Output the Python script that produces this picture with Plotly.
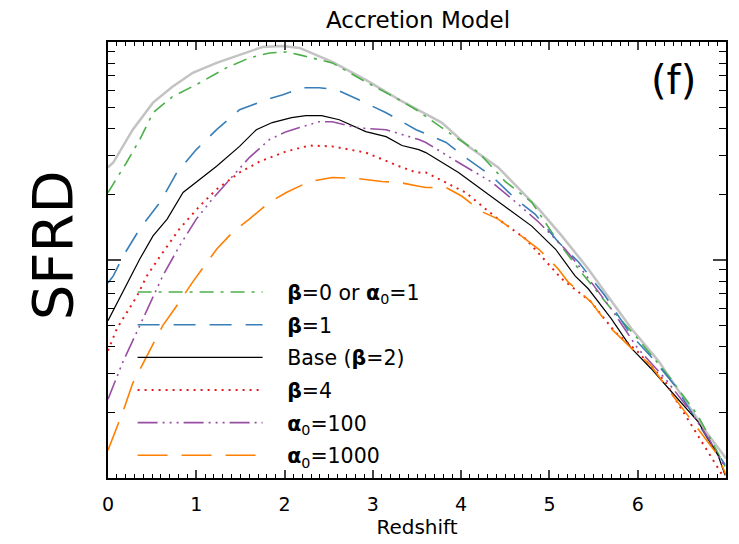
import plotly.graph_objects as go

# ---------------- data ----------------
z_gray = [0.0, 0.06, 0.28, 0.51, 0.73, 0.96, 1.23, 1.49, 1.75, 1.98, 2.17, 2.54, 2.92, 3.30,
          3.78, 4.08, 4.42, 4.88, 5.14, 5.44, 5.93, 6.24, 6.50, 6.77, 7.0]
v_gray = [0.266, 0.280, 0.396, 0.527, 0.623, 0.722, 0.802, 0.873, 0.949, 0.959, 0.939, 0.811,
          0.670, 0.543, 0.427, 0.332, 0.266, 0.171, 0.129, 0.0910, 0.0484, 0.0342, 0.0239,
          0.0164, 0.0123]

z_green = [0.0, 0.21, 0.36, 0.51, 0.73, 1.04, 1.34, 1.60, 1.83, 2.02, 2.17, 2.54, 2.92, 3.30,
           3.49, 3.86, 4.20, 4.50, 4.80, 5.10, 5.33, 5.70, 6.00, 6.37, 6.68, 6.96, 7.0]
v_green = [0.204, 0.280, 0.357, 0.474, 0.561, 0.650, 0.761, 0.845, 0.891, 0.900, 0.873, 0.802,
           0.656, 0.543, 0.489, 0.384, 0.311, 0.229, 0.184, 0.121, 0.0910, 0.0597, 0.0436,
           0.0286, 0.0194, 0.0120, 0.0111]

z_blue = [0.0, 0.06, 0.17, 0.36, 0.59, 0.78, 1.00, 1.23, 1.49, 1.79, 1.98, 2.20, 2.39, 2.59,
          2.84, 3.15, 3.49, 3.83, 4.05, 4.35, 4.62, 4.84, 5.10, 5.33, 5.63, 5.93, 6.15, 6.42,
          6.79, 6.99]
v_blue = [0.0785, 0.0845, 0.104, 0.139, 0.184, 0.252, 0.321, 0.396, 0.489, 0.543, 0.573, 0.617,
          0.617, 0.604, 0.543, 0.474, 0.396, 0.346, 0.295, 0.242, 0.190, 0.162, 0.121, 0.0979,
          0.0685, 0.0450, 0.0361, 0.0266, 0.0152, 0.0115]

z_black = [0.0, 0.25, 0.36, 0.51, 0.67, 0.85, 1.04, 1.23, 1.49, 1.68, 1.86, 2.08, 2.24, 2.42,
           2.62, 2.92, 3.15, 3.33, 3.52, 3.60, 3.97, 4.28, 4.50, 4.80, 5.07, 5.29, 5.44, 5.70,
           5.93, 6.15, 6.42, 6.68, 6.91, 6.99]
v_black = [0.0527, 0.0819, 0.101, 0.129, 0.154, 0.204, 0.234, 0.269, 0.332, 0.396, 0.427, 0.450,
           0.459, 0.459, 0.440, 0.388, 0.368, 0.335, 0.321, 0.311, 0.252, 0.204, 0.177, 0.143,
           0.112, 0.0845, 0.0738, 0.0538, 0.0393, 0.0318, 0.0239, 0.0182, 0.0127, 0.0103]

z_red = [0.0, 0.10, 0.33, 0.44, 0.59, 0.81, 1.04, 1.23, 1.49, 1.72, 2.02, 2.28, 2.54, 2.92,
         3.30, 3.49, 3.60, 3.83, 4.05, 4.28, 4.42, 4.73, 4.91, 5.14, 5.47, 5.74, 6.00, 6.31,
         6.49, 6.68, 6.91, 6.96]
v_red = [0.0384, 0.0484, 0.0685, 0.0845, 0.104, 0.139, 0.177, 0.211, 0.252, 0.283, 0.315, 0.335,
         0.332, 0.311, 0.269, 0.252, 0.252, 0.227, 0.204, 0.171, 0.154, 0.125, 0.104, 0.0819,
         0.0643, 0.0469, 0.0380, 0.0277, 0.0209, 0.0157, 0.0111, 0.0103]

z_purple = [0.0, 0.17, 0.36, 0.55, 0.62, 0.81, 1.00, 1.18, 1.41, 1.60, 1.83, 2.02, 2.17, 2.39,
            2.54, 2.77, 2.92, 3.15, 3.52, 3.60, 3.97, 4.35, 4.62, 4.88, 5.18, 5.36, 5.70, 6.00,
            6.31, 6.60, 6.82, 6.99]
v_purple = [0.0230, 0.0342, 0.0500, 0.0738, 0.0845, 0.116, 0.154, 0.190, 0.242, 0.295, 0.357,
            0.388, 0.405, 0.431, 0.431, 0.409, 0.401, 0.396, 0.357, 0.346, 0.280, 0.227, 0.184,
            0.149, 0.112, 0.0910, 0.0597, 0.0393, 0.0286, 0.0202, 0.0148, 0.0111]

z_orange = [0.0, 0.17, 0.28, 0.47, 0.62, 0.81, 0.96, 1.23, 1.41, 1.60, 1.83, 2.02, 2.28, 2.54,
            2.81, 3.10, 3.30, 3.52, 3.60, 3.83, 4.01, 4.23, 4.42, 4.68, 4.88, 5.10, 5.21, 5.47,
            5.70, 5.93, 6.15, 6.42, 6.68, 6.91, 7.0]
v_orange = [0.0134, 0.0202, 0.0272, 0.0380, 0.0500, 0.0643, 0.0794, 0.112, 0.134, 0.154, 0.184,
            0.204, 0.229, 0.239, 0.237, 0.229, 0.227, 0.218, 0.215, 0.215, 0.196, 0.167, 0.154,
            0.129, 0.112, 0.0910, 0.0794, 0.0643, 0.0484, 0.0393, 0.0328, 0.0232, 0.0169,
            0.0127, 0.0103]

labels = ["<b>β</b>=0 or <b>α</b><sub>0</sub>=1", "<b>β</b>=1", "Base (<b>β</b>=2)",
          "<b>β</b>=4", "<b>α</b><sub>0</sub>=100", "<b>α</b><sub>0</sub>=1000"]

x_ticks = [0, 1, 2, 3, 4, 5, 6]

# ---------------- figure ----------------
FONT = "DejaVu Sans"
fig = go.Figure()

fig.add_trace(go.Scatter(x=z_gray, y=v_gray, mode="lines", showlegend=False,
                         line=dict(color="#C3C3C3", width=2.5)))

styles = [
    (z_green, v_green, "#4DAF4A", "14px,7px,3px,7px", 1.6),
    (z_blue, v_blue, "#377EB8", "22px,14px", 1.6),
    (z_black, v_black, "#000000", "solid", 1.2),
    (z_red, v_red, "#E41A1C", "2px,5px", 2.0),
    (z_purple, v_purple, "#984EA3", "20px,5px,2px,5px,2px,5px,2px,5px", 1.6),
    (z_orange, v_orange, "#FF7F00", "30px,14px", 1.6),
]
PAD = "&nbsp;&nbsp;&nbsp;"
for i, ((zz, vv, col, dash, w), lab) in enumerate(zip(styles, labels)):
    fig.add_trace(go.Scatter(x=zz, y=vv, mode="lines", name=PAD + lab, legendgroup=f"g{i}",
                             line=dict(color=col, dash=dash, width=w)))

fig.update_layout(
    width=739, height=544,
    margin=dict(l=108, r=11, t=42, b=64),
    paper_bgcolor="white", plot_bgcolor="white",
    font=dict(family=FONT, color="black"),
    title=dict(text="Accretion Model", x=(418) / 739, xanchor="center",
               y=1 - 20 / 544, yanchor="middle", yref="container",
               font=dict(size=23, family=FONT, color="black")),
    legend=dict(x=0.0398, y=0.472, xanchor="left", yanchor="top",
                bgcolor="rgba(0,0,0,0)", font=dict(size=20.5, family=FONT),
                itemwidth=125, tracegroupgap=3, traceorder="grouped"),
    xaxis=dict(range=[0, 7], tickvals=x_ticks, ticks="inside", ticklen=8, tickwidth=1.5,
               showline=True, linecolor="black", linewidth=2, mirror="allticks",
               showgrid=False, zeroline=False, ticklabelstandoff=8,
               tickfont=dict(size=19, family=FONT),
               minor=dict(dtick=0.1, ticks="inside", ticklen=4, tickwidth=1.2,
                          tickcolor="black", showgrid=False),
               title=dict(text="Redshift", font=dict(size=20, family=FONT), standoff=4)),
    yaxis=dict(type="log", range=[-2, 0], tickvals=[0.01, 0.1, 1], showticklabels=False,
               ticks="inside", ticklen=13, tickwidth=1.5,
               showline=True, linecolor="black", linewidth=2, mirror="allticks",
               showgrid=False, zeroline=False,
               minor=dict(tickvals=[0.02, 0.03, 0.04, 0.05, 0.06, 0.07, 0.08, 0.09,
                                    0.2, 0.3, 0.4, 0.5, 0.6, 0.7, 0.8, 0.9],
                          ticks="inside", ticklen=7, tickwidth=1.2, tickcolor="black",
                          showgrid=False)),
)

fig.add_annotation(text="SFRD", xref="paper", yref="paper", x=(52 - 108) / 620,
                   y=(480 - 246) / 438, textangle=-90, showarrow=False,
                   xanchor="center", yanchor="middle",
                   font=dict(size=56, family=FONT, color="black"))
fig.add_annotation(text="(f)", xref="paper", yref="paper", x=(675 - 108) / 620,
                   y=(480 - 80) / 438, showarrow=False, xanchor="center", yanchor="middle",
                   font=dict(size=40, family=FONT, color="black"))

fig.write_html("out.html")
